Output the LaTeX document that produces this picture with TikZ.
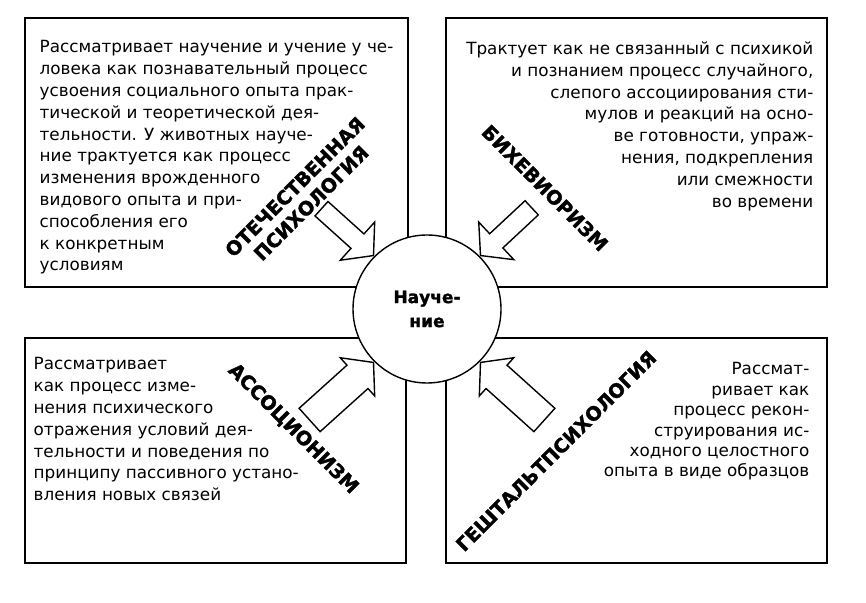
\documentclass[tikz,border=0pt]{standalone}
\usepackage{fontspec}
\setmainfont{DejaVu Sans}
\newfontfamily\schoolfont{DejaVu Sans}[BoldFeatures={FakeBold=1.6}]
\usetikzlibrary{positioning,shapes.arrows}

\begin{document}
\begin{tikzpicture}[x=0.5pt,y=-0.5pt,semithick,
  panel/.style={draw,line width=0.9pt,inner sep=0pt},
  body/.style={inner sep=0pt,font=\fontsize{8.4}{10.9}\selectfont},
  school/.style={inner sep=0pt,align=center,font=\fontsize{9.6}{11.5}\selectfont\schoolfont\bfseries},
  pointer/.style={single arrow,draw,fill=white,line width=0.7pt,inner xsep=0pt,
    anchor=tip,single arrow tip angle=100,minimum width=1pt},
  thin pointer/.style={pointer,inner ysep=4.5pt,single arrow head extend=8pt,minimum height=35pt},
  wide pointer/.style={pointer,inner ysep=7.5pt,single arrow head extend=5pt,minimum height=43pt}]

\useasboundingbox (0,0) rectangle (866,603);

\node[panel, minimum width=191.5pt, minimum height=134.5pt] (domesticbox) at (216.5,152.5) {};
\node[panel, minimum width=190.5pt, minimum height=134.5pt] (behavbox)    at (636.5,152.5) {};
\node[panel, minimum width=190.5pt, minimum height=112.5pt] (assocbox)    at (215.5,450.5) {};
\node[panel, minimum width=190.5pt, minimum height=112.5pt] (gestaltbox)  at (636.5,450.5) {};

% descriptions
\node[body, align=left, below right=11.5pt and 7.5pt of domesticbox.north west] (domestictext)
  {Рассматривает научение и учение у че-\\ловека как познавательный процесс\\усвоения социального опыта прак-\\тической и теоретической дея-\\тельности. У животных науче-\\ние трактуется как процесс\\изменения врожденного\\видового опыта и при-\\способления его\\к конкретным\\условиям};
\node[body, align=right, below left=12pt and 7pt of behavbox.north east] (behavtext)
  {Трактует как не связанный с психикой\\и познанием процесс случайного,\\слепого ассоциирования сти-\\мулов и реакций на осно-\\ве готовности, упраж-\\нения, подкрепления\\или смежности\\во времени};
\node[body, align=left, below right=10pt and 4.5pt of assocbox.north west] (assoctext)
  {Рассматривает\\как процесс изме-\\нения психического\\отражения условий дея-\\тельности и поведения по\\принципу пассивного устано-\\вления новых связей};
\node[body, align=right, font=\fontsize{8.4}{10.2}\selectfont,
  below left=12.5pt and 9pt of gestaltbox.north east] (gestalttext)
  {Рассмат-\\ривает как\\процесс рекон-\\струирования ис-\\ходного целостного\\опыта в виде образцов};

% schools
\node[school, rotate=45]  (domestic) at (303,195) {ОТЕЧЕСТВЕННАЯ\\ПСИХОЛОГИЯ};
\node[school, rotate=-45] (behav)    at (545,188) {БИХЕВИОРИЗМ};
\node[school, rotate=-45] (assoc)    at (293,429) {АССОЦИОНИЗМ};
\node[school, rotate=45]  (gestalt)  at (556,451) {ГЕШТАЛЬТПСИХОЛОГИЯ};

\node[circle, draw, fill=white, line width=0.7pt, minimum size=74pt, inner sep=0pt,
  align=center, font=\fontsize{8.5}{12}\selectfont\schoolfont\bfseries] (learn) at (427,309) {Науче-\\ние};

\node[thin pointer, rotate=-42] at (learn.135) {};
\node[thin pointer, rotate=-137] at (learn.45) {};
\node[wide pointer, rotate=42] at (learn.-135) {};
\node[wide pointer, rotate=138] at (learn.-45) {};
\end{tikzpicture}
\end{document}
